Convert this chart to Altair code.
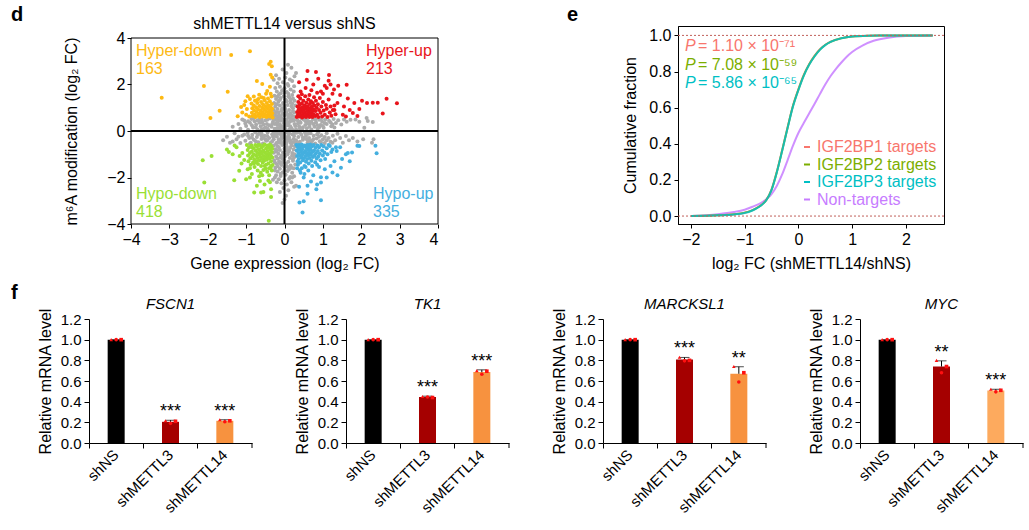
import altair as alt
import pandas as pd

FONT = "Liberation Sans"

# ---------------------------------------------------------------- panel d data
# gene expression (log2 FC), m6A modification (log2 FC) pairs per quadrant
HYPER_DOWN = """
-3.2,1.43 -2.1,1.94 -1.39,3.27 -0.9,3.43 -1.48,1.69 -1.69,0.87 -1.93,0.56 -0.72,2.15
-1.13,1.03 -1.22,0.63 -0.36,2.98 -0.4,2.88 -0.33,2.78 -0.36,2.42 -0.32,2.3 -0.58,2.02
-0.45,1.72 -0.38,1.9 -0.96,1.5 -1.02,1.28 -1.05,1.12 -0.98,0.95 -0.9,1.38 -0.8,1.48
-0.66,1.56 -0.54,1.42 -0.48,1.6 -1.1,0.8 -1.0,0.7 -0.92,0.62
-0.86,1.18 -0.84,0.98 -0.85,0.78 -0.83,0.64 -0.8,1.1 -0.79,0.88 -0.78,0.7 -0.77,1.3
-0.75,0.6 -0.74,1.02 -0.73,0.82 -0.71,1.2 -0.7,0.66 -0.69,0.94 -0.68,1.38 -0.66,0.76
-0.65,1.08 -0.64,0.6 -0.62,0.88 -0.61,1.25 -0.6,0.7 -0.58,1.0 -0.57,0.8 -0.56,1.15
-0.55,0.62 -0.53,0.92 -0.52,1.32 -0.51,0.72 -0.5,1.06 -0.48,0.84 -0.47,0.6 -0.46,1.2
-0.45,0.98 -0.44,0.68 -0.43,1.4 -0.42,0.78 -0.41,1.1 -0.4,0.9 -0.39,0.62 -0.38,1.28
-0.37,0.74 -0.36,1.02 -0.35,0.86 -0.34,0.66 -0.33,1.16 -0.32,0.96 -0.31,0.58 -0.32,0.76
-0.34,1.48 -0.36,1.6 -0.6,1.45 -0.72,1.32
"""

HYPER_UP = """
0.6,2.58 0.82,2.54 1.16,2.41 1.15,2.16 1.29,1.78 1.62,1.99 1.82,1.2 2.02,1.3 2.15,1.2
2.3,1.22 2.43,1.22 2.56,0.75 2.66,1.39 2.93,1.19 1.78,0.77 1.52,0.7 1.9,0.65 1.65,1.4
1.45,1.55 1.38,1.2 1.55,1.05 1.7,0.9 1.3,0.9 1.25,1.6 1.05,1.95 0.95,1.7 0.75,2.0
0.55,1.85 0.42,1.7 0.38,2.1 0.88,2.25 1.4,1.95 1.2,2.0 1.6,0.62 1.95,0.95
0.32,0.6 0.33,0.82 0.34,1.05 0.35,0.7 0.36,1.25 0.37,0.92 0.38,0.62 0.39,1.12 0.4,0.78
0.41,1.4 0.42,0.98 0.43,0.66 0.44,0.86 0.45,1.18 0.46,0.58 0.47,1.02 0.48,0.74 0.49,1.3
0.5,0.9 0.51,0.64 0.52,1.1 0.53,0.8 0.54,1.5 0.55,0.98 0.56,0.6 0.57,1.22 0.58,0.72
0.59,0.88 0.6,1.06 0.61,0.66 0.62,1.36 0.63,0.82 0.64,0.98 0.65,0.6 0.66,1.16 0.67,0.76
0.68,0.92 0.69,1.28 0.7,0.68 0.71,1.04 0.72,0.84 0.73,0.6 0.74,1.2 0.75,0.94 0.76,0.72
0.77,1.45 0.78,1.1 0.8,0.64 0.81,0.86 0.82,1.3 0.84,1.0 0.85,0.7 0.87,1.15 0.88,0.6
0.9,0.9 0.92,1.42 0.94,0.78 0.96,1.05 0.98,0.62 1.0,1.25 1.02,0.88 1.05,0.7 1.08,1.12
1.1,0.96 1.12,0.6 1.15,1.35 1.18,0.8 1.2,1.05 1.22,0.66 1.26,0.9 1.3,1.1 1.33,0.72
1.0,1.6 0.85,1.65 0.65,1.55 0.45,1.58 0.36,1.5 0.7,1.75 0.58,2.2 1.1,1.85
"""

HYPO_DOWN = """
-2.13,-1.26 -1.9,-1.07 -2.09,-2.22 -1.31,-2.12 -1.0,-2.08 -0.79,-2.65 -0.61,-2.65
-0.35,-2.84 -0.41,-3.86 -1.5,-0.8 -1.45,-0.9 -1.17,-1.08 -0.96,-1.65 -0.66,-1.95
-0.64,-2.15 -0.42,-2.13 -1.18,-1.71 -0.35,-2.5 -0.52,-2.3 -0.72,-2.35 -0.9,-2.0
-1.25,-0.7 -1.35,-1.0 -1.12,-1.4 -0.55,-2.62 -0.38,-2.2 -0.85,-1.85 -1.05,-1.25
-1.1,-0.95 -1.3,-0.62
-0.98,-0.6 -0.96,-0.82 -0.95,-1.05 -0.94,-1.3 -0.92,-0.7 -0.9,-0.95 -0.89,-1.18
-0.88,-1.45 -0.86,-0.62 -0.85,-0.88 -0.84,-1.1 -0.82,-1.35 -0.81,-0.74 -0.8,-1.0
-0.79,-1.22 -0.78,-1.55 -0.76,-0.6 -0.75,-0.84 -0.74,-1.06 -0.73,-1.3 -0.72,-0.68
-0.71,-0.94 -0.7,-1.16 -0.69,-1.42 -0.67,-0.78 -0.66,-1.02 -0.65,-1.26 -0.64,-0.6
-0.63,-0.88 -0.62,-1.12 -0.61,-1.5 -0.6,-0.72 -0.59,-0.98 -0.58,-1.2 -0.57,-1.36
-0.56,-0.64 -0.55,-0.84 -0.54,-1.08 -0.53,-1.28 -0.52,-0.58 -0.51,-0.92 -0.5,-1.14
-0.49,-1.62 -0.48,-0.74 -0.47,-1.0 -0.46,-1.24 -0.45,-0.62 -0.44,-0.86 -0.43,-1.1
-0.42,-1.4 -0.41,-0.7 -0.4,-0.96 -0.39,-1.18 -0.38,-0.58 -0.37,-0.8 -0.36,-1.04
-0.35,-1.3 -0.34,-0.66 -0.33,-0.9 -0.32,-1.14 -0.31,-1.46 -0.33,-1.7 -0.36,-1.58
-0.45,-1.75 -0.55,-1.68 -0.62,-1.8 -0.7,-1.7 -0.8,-1.4 -0.9,-1.6 -0.58,-1.9 -0.4,-1.9
-0.32,-0.76 -0.35,-1.5 -0.75,-1.35 -0.68,-0.6 -0.48,-1.45 -0.52,-1.5 -0.85,-0.7 -0.4,-1.6
"""

HYPO_UP = """
1.34,-0.7 1.36,-0.86 1.6,-1.0 1.65,-0.95 1.9,-0.63 1.76,-0.93 2.37,-0.63 2.4,-0.96
1.25,-1.78 1.38,-1.9 0.95,-1.99 0.6,-2.35 0.83,-2.5 0.38,-2.4 0.69,-2.17 1.1,-2.0
0.95,-2.98 0.39,-3.08 0.5,-3.02 0.47,-3.51 1.47,-1.58 0.95,-2.22 1.45,-0.7 1.95,-0.65
1.2,-1.5 1.3,-1.3 1.5,-1.2 1.05,-1.65 0.5,-2.0 0.75,-1.9 0.42,-1.8 1.15,-0.6 1.25,-0.8
1.7,-1.3 0.6,-2.7 0.85,-2.3
0.31,-0.6 0.32,-0.84 0.33,-1.08 0.34,-1.3 0.35,-0.7 0.36,-0.95 0.37,-1.2 0.38,-0.6
0.39,-0.8 0.4,-1.04 0.41,-1.36 0.42,-0.66 0.43,-0.9 0.44,-1.14 0.45,-0.58 0.46,-0.78
0.47,-1.0 0.48,-1.26 0.49,-0.68 0.5,-0.92 0.51,-1.16 0.52,-1.5 0.53,-0.62 0.54,-0.86
0.55,-1.08 0.56,-1.32 0.57,-0.72 0.58,-0.96 0.59,-1.2 0.6,-0.6 0.61,-0.82 0.62,-1.04
0.63,-1.4 0.64,-0.7 0.65,-0.94 0.66,-1.16 0.67,-0.58 0.68,-0.8 0.69,-1.02 0.7,-1.28
0.72,-0.66 0.73,-0.9 0.74,-1.12 0.76,-0.6 0.77,-0.84 0.78,-1.06 0.8,-1.34 0.81,-0.72
0.82,-0.96 0.84,-1.18 0.86,-0.62 0.87,-0.86 0.88,-1.1 0.9,-0.7 0.92,-0.98 0.94,-1.26
0.96,-0.6 0.98,-0.84 1.0,-1.05 1.02,-0.66 1.04,-0.92 1.06,-1.2 1.1,-0.74 1.12,-1.0
1.18,-0.64 1.22,-0.9 0.35,-1.45 0.45,-1.6 0.55,-1.55 0.62,-1.7 0.72,-1.5 0.85,-1.45
0.4,-1.7 0.52,-1.85 0.33,-1.6 0.9,-1.55
"""

UNCHANGED = """
-0.28,0.6 -0.2,0.65 -0.1,0.62 0.0,0.68 0.1,0.6 0.2,0.66 0.28,0.62 -0.25,0.75 -0.15,0.8
-0.05,0.74 0.05,0.82 0.15,0.76 0.25,0.8 -0.28,0.9 -0.18,0.95 -0.08,0.88 0.02,0.96
0.12,0.9 0.22,0.98 -0.24,1.05 -0.12,1.1 0.0,1.04 0.08,1.12 0.18,1.06 0.28,1.1 -0.27,1.2
-0.16,1.26 -0.04,1.2 0.06,1.28 0.16,1.22 0.26,1.3 -0.22,1.38 -0.1,1.42 0.02,1.36
0.12,1.45 0.22,1.4 -0.26,1.52 -0.14,1.58 -0.02,1.5 0.1,1.6 0.2,1.55 -0.2,1.7 -0.06,1.75
0.06,1.68 0.16,1.78 -0.24,1.85 -0.12,1.9 0.0,1.84 0.1,1.95 0.25,1.92 -0.18,2.05
-0.04,2.1 0.08,2.02 0.2,2.15 -0.14,2.25 0.02,2.3 0.14,2.22 -0.22,2.4 0.05,2.5 0.3,2.5
0.09,2.85 -0.05,2.65 0.18,2.72 -0.28,2.2 0.26,2.35 -0.1,1.62 0.04,1.3 -0.2,1.15
0.14,0.7 -0.16,0.58 0.24,1.7
-1.35,0.18 -1.2,0.3 -1.15,0.1 -1.05,0.45 -1.0,0.22 -0.95,0.05 -0.9,0.35 -0.86,0.52
-0.82,0.15 -0.78,0.42 -0.74,0.28 -0.7,0.06 -0.66,0.5 -0.62,0.2 -0.58,0.38 -0.54,0.1
-0.5,0.46 -0.46,0.3 -0.42,0.04 -0.38,0.54 -0.34,0.18 -0.3,0.4 -0.26,0.1 -0.22,0.5
-0.18,0.26 -0.14,0.08 -0.1,0.44 -0.06,0.2 -0.02,0.34 0.02,0.06 0.06,0.5 0.1,0.24
0.14,0.4 0.18,0.12 0.22,0.52 0.26,0.3 0.3,0.08 0.34,0.46 0.38,0.2 0.42,0.36 0.46,0.04
0.5,0.5 0.54,0.26 0.58,0.12 0.62,0.42 0.66,0.3 0.7,0.06 0.74,0.52 0.78,0.18 0.82,0.38
0.86,0.1 0.9,0.48 0.94,0.26 0.98,0.4 1.02,0.14 1.06,0.5 1.1,0.3 1.16,0.44 1.22,0.2
1.28,0.52 1.34,0.34 1.4,0.46 1.48,0.28 1.55,0.5 1.62,0.4 1.72,0.48 1.85,0.5 1.95,0.4
2.14,0.56 2.17,0.43 2.08,0.14 2.3,0.39 -0.8,0.55 -0.6,0.05 -0.4,0.25 -0.2,0.36 0.0,0.15
0.2,0.44 0.4,0.1 0.6,0.32 0.8,0.5 1.0,0.22 1.2,0.38 -1.1,0.5 -0.7,0.45 -0.5,0.15
-0.3,0.55 0.15,0.55 0.45,0.55 0.7,0.4 0.9,0.15 1.3,0.15 -0.12,0.15 0.08,0.38
-0.25,0.3 -0.15,0.45 -0.05,0.05 0.05,0.28 0.15,0.2 0.25,0.46 -0.2,0.12 0.0,0.5 0.12,0.05
-0.08,0.55 0.28,0.22 -0.28,0.48 0.35,0.32 0.55,0.42 0.75,0.3 0.95,0.52 -0.55,0.28
-0.75,0.16 -0.95,0.42 -0.45,0.48 -0.65,0.36 0.65,0.18 0.85,0.26 1.05,0.34 1.25,0.28
-0.85,0.25 -1.02,0.32
-1.6,-0.4 -1.5,-0.25 -1.42,-0.5 -1.3,-0.1 -1.25,-0.35 -1.15,-0.52 -1.1,-0.2 -1.02,-0.42
-0.96,-0.08 -0.92,-0.3 -0.88,-0.5 -0.84,-0.16 -0.8,-0.38 -0.76,-0.05 -0.72,-0.26
-0.68,-0.48 -0.64,-0.12 -0.6,-0.34 -0.56,-0.54 -0.52,-0.2 -0.48,-0.42 -0.44,-0.06
-0.4,-0.3 -0.36,-0.5 -0.32,-0.14 -0.28,-0.36 -0.24,-0.04 -0.2,-0.24 -0.16,-0.46
-0.12,-0.12 -0.08,-0.32 -0.04,-0.52 0.0,-0.18 0.04,-0.4 0.08,-0.06 0.12,-0.28 0.16,-0.5
0.2,-0.14 0.24,-0.34 0.28,-0.54 0.32,-0.08 0.36,-0.26 0.4,-0.46 0.44,-0.16 0.48,-0.38
0.52,-0.04 0.56,-0.22 0.6,-0.5 0.64,-0.3 0.68,-0.1 0.72,-0.42 0.76,-0.2 0.8,-0.54
0.84,-0.32 0.88,-0.06 0.92,-0.44 0.96,-0.18 1.0,-0.36 1.05,-0.52 1.1,-0.1 1.15,-0.3
1.2,-0.46 1.26,-0.2 1.32,-0.4 1.38,-0.12 1.45,-0.3 1.52,-0.5 1.6,-0.22 1.68,-0.4
1.78,-0.3 1.9,-0.45 2.05,-0.35 2.32,-0.36 2.28,-0.5 -0.9,-0.55 -0.7,-0.15 -0.5,-0.35
-0.3,-0.25 -0.1,-0.4 0.1,-0.2 0.3,-0.4 0.5,-0.3 0.7,-0.55 0.9,-0.25 1.1,-0.4 -1.35,-0.45
-1.2,-0.25 0.05,-0.54 -0.22,-0.55 0.25,-0.1 -0.6,-0.1 0.62,-0.12
-0.25,-0.2 -0.15,-0.35 -0.05,-0.1 0.05,-0.3 0.15,-0.4 0.25,-0.22 -0.2,-0.5 0.0,-0.45
0.12,-0.1 -0.08,-0.2 0.28,-0.44 -0.28,-0.08 0.35,-0.52 0.55,-0.12 0.75,-0.36 0.95,-0.48
-0.55,-0.28 -0.75,-0.44 -0.95,-0.2 -0.45,-0.22 -0.65,-0.04 0.65,-0.42 0.85,-0.14
1.05,-0.26 1.25,-0.5 -0.85,-0.28 -1.05,-0.15
-0.28,-0.62 -0.18,-0.66 -0.06,-0.6 0.06,-0.68 0.18,-0.62 0.27,-0.66 -0.24,-0.78
-0.12,-0.82 0.0,-0.76 0.12,-0.84 0.24,-0.8 -0.28,-0.94 -0.16,-0.98 -0.04,-0.92 0.08,-1.0
0.2,-0.95 -0.22,-1.1 -0.1,-1.14 0.02,-1.08 0.14,-1.16 0.26,-1.12 -0.27,-1.26 -0.14,-1.3
-0.02,-1.24 0.1,-1.32 0.22,-1.28 -0.2,-1.42 -0.08,-1.46 0.04,-1.4 0.16,-1.48 0.28,-1.44
-0.24,-1.58 -0.12,-1.62 0.0,-1.56 0.12,-1.64 0.24,-1.6 -0.18,-1.74 -0.05,-1.78
0.08,-1.72 0.2,-1.8 -0.22,-1.9 -0.1,-1.94 0.03,-1.88 0.15,-1.98 -0.15,-2.08 0.0,-2.12
0.12,-2.05 -0.08,-2.25 0.06,-2.3 -0.2,-2.2 0.18,-2.2 -0.03,-2.45 0.1,-2.55 -0.12,-2.62
0.04,-2.78 -0.05,-3.1 0.0,-2.95 -0.25,-2.0 0.25,-1.95 -0.15,-0.7 0.1,-0.9 -0.05,-1.2
0.05,-1.52 -0.25,-1.7 0.15,-0.72 0.02,-1.02 -0.18,-1.18 0.3,-2.35 -0.3,-2.1 0.25,-2.4
-0.22,0.82 0.08,0.7 -0.06,0.98 0.2,1.18 -0.12,1.34 0.1,1.5 -0.18,1.48 0.0,1.66
-0.22,-0.88 0.06,-0.86 -0.08,-1.06 0.22,-1.2 -0.12,-1.38 0.1,-1.56 -0.18,-1.52 0.0,-1.68
0.2,-1.05 -0.25,-1.35
-0.02,0.42 0.1,0.32 -0.18,0.4 0.2,0.05 -0.32,0.3 0.4,0.4 -0.45,0.12 0.48,0.16
-0.6,0.5 0.58,0.48 -0.12,0.28 0.02,0.22 -0.02,-0.28 0.1,-0.42 -0.18,-0.12 0.2,-0.48
-0.32,-0.44 0.4,-0.08 -0.45,-0.4 0.48,-0.28 -0.6,-0.22 0.58,-0.36 -0.12,-0.5 0.02,-0.06
-0.14,0.68 0.22,0.86 -0.02,1.15 0.16,1.34 -0.26,0.64 0.06,-0.74 -0.2,-0.84 0.26,-1.0
-0.06,-1.36 0.18,-1.58 -0.1,-1.84 0.2,-2.0
"""

QUADRANTS = ["Unchanged", "Hyper-down", "Hyper-up", "Hypo-down", "Hypo-up"]
QUAD_COLORS = ["#ABABAB", "#FDB913", "#E8141B", "#9ADF35", "#44AFDF"]
QUAD_COUNTS = {"Hyper-down": 163, "Hyper-up": 213, "Hypo-down": 418, "Hypo-up": 335}


def parse_pairs(text):
    xs, ys = [], []
    for tok in text.split():
        a, b = tok.split(",")
        xs.append(float(a))
        ys.append(float(b))
    return xs, ys


rows = []
for name, block in [("Unchanged", UNCHANGED), ("Hyper-down", HYPER_DOWN),
                     ("Hyper-up", HYPER_UP), ("Hypo-down", HYPO_DOWN),
                     ("Hypo-up", HYPO_UP)]:
    xs, ys = parse_pairs(block)
    rows += [{"expr": a, "m6a": b, "group": name} for a, b in zip(xs, ys)]
scatter_df = pd.DataFrame(rows)

# ---------------------------------------------------------------- panel e data
CDF_X_TARGET = [-2.0, -1.5, -1.2, -1.0, -0.9, -0.8, -0.7, -0.6, -0.5, -0.4, -0.3, -0.2,
                -0.1, 0.0, 0.1, 0.2, 0.3, 0.4, 0.5, 0.6, 0.8, 1.0, 1.3, 1.6, 2.0, 2.5]
CDF_IGF2BP1 = [0.0, 0.004, 0.01, 0.018, 0.027, 0.041, 0.059, 0.088, 0.147, 0.247, 0.367,
               0.492, 0.612, 0.702, 0.781, 0.841, 0.887, 0.923, 0.948, 0.965, 0.985,
               0.994, 0.998, 0.999, 1.0, 1.0]
CDF_IGF2BP2 = [0.0, 0.004, 0.01, 0.019, 0.027, 0.04, 0.058, 0.087, 0.145, 0.245, 0.365,
               0.49, 0.61, 0.7, 0.779, 0.839, 0.885, 0.921, 0.947, 0.964, 0.984, 0.994,
               0.998, 0.999, 1.0, 1.0]
CDF_IGF2BP3 = [0.0, 0.004, 0.009, 0.017, 0.025, 0.039, 0.057, 0.086, 0.143, 0.243, 0.363,
               0.488, 0.607, 0.697, 0.776, 0.837, 0.883, 0.92, 0.946, 0.964, 0.984, 0.994,
               0.998, 0.999, 1.0, 1.0]
CDF_X_NON = [-2.0, -1.5, -1.2, -1.0, -0.85, -0.7, -0.57, -0.5, -0.4, -0.3, -0.2, -0.1,
             0.0, 0.1, 0.2, 0.3, 0.4, 0.5, 0.6, 0.7, 0.8, 0.9, 1.0, 1.2, 1.4, 1.7, 2.0, 2.5]
CDF_NON = [0.0, 0.01, 0.022, 0.035, 0.052, 0.072, 0.1, 0.122, 0.168, 0.232, 0.31, 0.39,
           0.46, 0.515, 0.568, 0.62, 0.675, 0.728, 0.775, 0.815, 0.85, 0.882, 0.908,
           0.945, 0.97, 0.988, 0.996, 1.0]

SERIES = ["IGF2BP1 targets", "IGF2BP2 targets", "IGF2BP3 targets", "Non-targets"]
SERIES_COLORS = ["#F8766D", "#7CAE00", "#00BFC4", "#C77CFF"]
P_TEXTS = ["= 1.10 × 10⁻⁷¹", "= 7.08 × 10⁻⁵⁹", "= 5.86 × 10⁻⁶⁵"]

cdf_rows = []
for name, xs, ys in [("Non-targets", CDF_X_NON, CDF_NON),
                     ("IGF2BP1 targets", CDF_X_TARGET, CDF_IGF2BP1),
                     ("IGF2BP2 targets", CDF_X_TARGET, CDF_IGF2BP2),
                     ("IGF2BP3 targets", CDF_X_TARGET, CDF_IGF2BP3)]:
    cdf_rows += [{"fc": a, "frac": b, "series": name} for a, b in zip(xs, ys)]
cdf_df = pd.DataFrame(cdf_rows)

# ---------------------------------------------------------------- panel f data
CONDITIONS = ["shNS", "shMETTL3", "shMETTL14"]
GENES = ["FSCN1", "TK1", "MARCKSL1", "MYC"]
MEANS = {"FSCN1": [1.0, 0.205, 0.215], "TK1": [1.0, 0.445, 0.686],
         "MARCKSL1": [1.0, 0.808, 0.67], "MYC": [1.0, 0.74, 0.508]}
SDS = {"FSCN1": [0.0, 0.015, 0.01], "TK1": [0.0, 0.008, 0.022],
       "MARCKSL1": [0.0, 0.02, 0.068], "MYC": [0.0, 0.055, 0.012]}
REPLICATES = {
    "FSCN1": [[1.0, 1.0, 1.0], [0.215, 0.19, 0.21], [0.225, 0.205, 0.215]],
    "TK1": [[1.0, 1.0, 1.0], [0.45, 0.445, 0.44], [0.70, 0.665, 0.695]],
    "MARCKSL1": [[1.0, 1.0, 1.0], [0.83, 0.795, 0.80], [0.74, 0.59, 0.68]],
    "MYC": [[1.0, 1.0, 1.0], [0.80, 0.68, 0.74], [0.52, 0.495, 0.51]],
}
STARS = {"FSCN1": ["", "***", "***"], "TK1": ["", "***", "***"],
         "MARCKSL1": ["", "***", "**"], "MYC": ["", "**", "***"]}
BAR_COLORS = {"FSCN1": ["#000000", "#A50000", "#F7923F"],
              "TK1": ["#000000", "#A50000", "#F7923F"],
              "MARCKSL1": ["#000000", "#A50000", "#F7923F"],
              "MYC": ["#000000", "#A50000", "#FDAA5E"]}


def text_layer(txt, x, y, **kw):
    props = dict(font=FONT, fontSize=16, align="left", baseline="alphabetic")
    props.update(kw)
    return alt.Chart(pd.DataFrame({"t": [txt]})).mark_text(**props).encode(
        text="t:N", x=alt.value(x), y=alt.value(y))


def letter(ch, dx, dy):
    return text_layer(ch, dx, dy, fontSize=20, fontWeight="bold")


# ---------------------------------------------------------------- panel d
# The plot rectangle is widened to the left and raised at the top so the
# panels of the figure share their grid origins; the visible frame is drawn
# at the -4..4 limits.
D_PX_X = 307 / 8
D_PX_Y = 186 / 8
D_EXTRA_LEFT, D_EXTRA_TOP = 42, 12
D_W, D_H = 307 + D_EXTRA_LEFT, 186 + D_EXTRA_TOP
D_XMIN = -4 - D_EXTRA_LEFT / D_PX_X
D_YMAX = 4 + D_EXTRA_TOP / D_PX_Y


def dx_enc(field):
    return alt.X(field, type="quantitative",
                 scale=alt.Scale(domain=[D_XMIN, 4], nice=False),
                 axis=alt.Axis(values=list(range(-4, 5)),
                               title="Gene expression (log₂ FC)",
                               tickSize=4, labelPadding=3, titlePadding=8, domain=False,
                               titleX=D_EXTRA_LEFT + 307 / 2, titleAlign="center",
                               labelOverlap=False))


def dy_enc(field):
    return alt.Y(field, type="quantitative",
                 scale=alt.Scale(domain=[-4, D_YMAX], nice=False),
                 axis=alt.Axis(values=[-4, -2, 0, 2, 4],
                               title="m⁶A modification (log₂ FC)",
                               tickSize=4, labelPadding=2, titlePadding=27, domain=False,
                               offset=-D_EXTRA_LEFT, titleY=D_EXTRA_TOP + 186 / 2,
                               labelOverlap=False))


dots = alt.Chart(scatter_df).mark_circle(size=16, opacity=1).encode(
    x=dx_enc("expr"), y=dy_enc("m6a"),
    color=alt.Color("group:N", scale=alt.Scale(domain=QUADRANTS, range=QUAD_COLORS),
                    legend=None),
)
zero_df = pd.DataFrame({"expr": [0.0], "m6a": [0.0], "lo": [-4.0], "hi": [4.0]})
vline = alt.Chart(zero_df).mark_rule(color="black", strokeWidth=2).encode(
    x=dx_enc("expr"), y=dy_enc("lo"), y2="hi:Q")
hline = alt.Chart(zero_df).mark_rule(color="black", strokeWidth=2).encode(
    y=dy_enc("m6a"), x=dx_enc("lo"), x2="hi:Q")

frame_v = alt.Chart(pd.DataFrame({"expr": [-4.0, 4.0], "lo": [-4.0, -4.0],
                                  "hi": [4.0, 4.0]})).mark_rule(
    color="black", strokeWidth=1).encode(x=dx_enc("expr"), y=dy_enc("lo"), y2="hi:Q")
frame_h = alt.Chart(pd.DataFrame({"m6a": [-4.0, 4.0], "lo": [-4.0, -4.0],
                                  "hi": [4.0, 4.0]})).mark_rule(
    color="black", strokeWidth=1).encode(y=dy_enc("m6a"), x=dx_enc("lo"), x2="hi:Q")

label_pos = {"Hyper-down": (47, 30), "Hyper-up": (277, 30),
             "Hypo-down": (47, 173), "Hypo-up": (284, 173)}
quad_layers = []
for name, col in zip(QUADRANTS[1:], QUAD_COLORS[1:]):
    px, py = label_pos[name]
    quad_layers.append(text_layer(f"{name}\n{QUAD_COUNTS[name]}", px, py, color=col,
                                  lineBreak="\n", lineHeight=18))

panel_d = alt.layer(
    dots, vline, hline, frame_v, frame_h, *quad_layers,
    text_layer("shMETTL14 versus shNS", D_EXTRA_LEFT + 307 / 2, 3, align="center"),
    letter("d", -78, -5),
).properties(width=D_W, height=D_H, view=alt.ViewBackground(stroke="transparent"))

# ---------------------------------------------------------------- panel e
E_W, E_H = 266, 198
ex = alt.X("fc:Q", scale=alt.Scale(domain=[-2.24, 2.71], nice=False),
           axis=alt.Axis(values=[-2, -1, 0, 1, 2], title="log₂ FC (shMETTL14/shNS)",
                         tickSize=4, labelPadding=3, titlePadding=8, labelOverlap=False))
ey = alt.Y("frac:Q", scale=alt.Scale(domain=[-0.044, 1.052], nice=False),
           axis=alt.Axis(values=[0, 0.2, 0.4, 0.6, 0.8, 1.0], format=".1f",
                         title="Cumulative fraction", tickSize=4, labelPadding=3,
                         titlePadding=10, labelOverlap=False))

curve_layers = []
for name, op in [("Non-targets", 0.85), ("IGF2BP1 targets", 0.75),
                 ("IGF2BP2 targets", 0.7), ("IGF2BP3 targets", 0.85)]:
    col = SERIES_COLORS[SERIES.index(name)]
    curve_layers.append(
        alt.Chart(cdf_df[cdf_df.series == name]).mark_line(
            strokeWidth=2, opacity=op, interpolate="monotone", color=col
        ).encode(x=ex, y=ey)
    )

ref_lines = alt.Chart(pd.DataFrame({"frac": [0.0, 1.0]})).mark_rule(
    color="#C0605A", strokeDash=[2, 2], strokeWidth=1
).encode(y=ey)

p_layers = []
for i, (txt, col) in enumerate(zip(P_TEXTS, SERIES_COLORS[:3])):
    base_y = 25 + 18.5 * i
    p_layers.append(text_layer("P", 7, base_y, color=col, fontStyle="italic"))
    p_layers.append(text_layer(txt, 20, base_y, color=col))

legend_layers = []
for i, (name, col) in enumerate(zip(SERIES, SERIES_COLORS)):
    by = 126 + 17.5 * i
    legend_layers.append(text_layer(name, 139, by, color=col))
    legend_layers.append(
        alt.Chart(pd.DataFrame({"t": [name]})).mark_rule(color=col, strokeWidth=2).encode(
            x=alt.value(126), x2=alt.value(132), y=alt.value(by - 5))
    )

panel_e = alt.layer(*curve_layers, ref_lines, *p_layers, *legend_layers,
                    letter("e", -111, -5)).properties(width=E_W, height=E_H)

# ---------------------------------------------------------------- panel f
F_W, F_H = 163, 124
STEP = F_W / 3


def fy_enc(field):
    return alt.Y(field, type="quantitative",
                 scale=alt.Scale(domain=[0, 1.2], nice=False),
                 axis=alt.Axis(values=[0, 0.2, 0.4, 0.6, 0.8, 1.0, 1.2], format=".1f",
                               title="Relative mRNA level", tickSize=5,
                               labelPadding=3, titlePadding=7, labelFontSize=15,
                               labelOverlap=False))


def fx_enc():
    return alt.X("cond:N", sort=CONDITIONS,
                 scale=alt.Scale(paddingInner=0, paddingOuter=0),
                 axis=alt.Axis(title=None, labelAngle=-45, labelAlign="right",
                               labelBaseline="middle", bandPosition=0, tickSize=5,
                               labelPadding=4, labelFontSize=15))


def bar_panel(gene, with_letter=False):
    means, sds = MEANS[gene], SDS[gene]
    df = pd.DataFrame({
        "cond": CONDITIONS, "mean": means, "sd": sds,
        "top": [m + s for m, s in zip(means, sds)],
        "stars": STARS[gene], "color": BAR_COLORS[gene],
    })
    rep_df = pd.DataFrame([
        {"cond": c, "rep": r, "value": v}
        for c, vals in zip(CONDITIONS, REPLICATES[gene]) for r, v in enumerate(vals)
    ])
    bars = alt.Chart(df).mark_bar(width=17).encode(
        x=fx_enc(), y=fy_enc("mean"), color=alt.Color("color:N", scale=None))
    err = alt.Chart(df).mark_rule(color="black", strokeWidth=1).encode(
        x=fx_enc(), y=fy_enc("mean"), y2="top:Q")
    cap = alt.Chart(df).mark_tick(color="black", thickness=1, size=10).encode(
        x=fx_enc(), y=fy_enc("top"))
    reps = alt.Chart(rep_df).mark_point(filled=True, size=13, color="#FF1010",
                                        opacity=1).encode(
        x=fx_enc(), y=fy_enc("value"),
        xOffset=alt.XOffset("rep:N", scale=alt.Scale(
            domain=[0, 1, 2], range=[STEP / 2 - 7.5, STEP / 2 + 7.5])),
        shape=alt.Shape("rep:N", scale=alt.Scale(
            domain=[0, 1, 2], range=["triangle-up", "circle", "square"]), legend=None),
    )
    stars = alt.Chart(df).mark_text(fontSize=18, font=FONT, dy=-3,
                                    baseline="alphabetic").encode(
        x=fx_enc(), y=fy_enc("top"), text="stars:N")
    end_tick = alt.Chart(pd.DataFrame({"k": [0]})).mark_rule(color="black").encode(
        x=alt.value(F_W), y=alt.value(F_H), y2=alt.value(F_H + 5))
    title = text_layer(gene, F_W / 2, -10, align="center", fontStyle="italic",
                       fontSize=15)
    layers = [bars, err, cap, reps, stars, end_tick, title]
    if with_letter:
        layers.append(letter("f", -78, -20))
    return alt.layer(*layers).properties(
        width=F_W, height=F_H, view=alt.ViewBackground(stroke="transparent"))


bottom = alt.hconcat(*[bar_panel(g, i == 0) for i, g in enumerate(GENES)],
                     spacing=94, bounds="flush")
top = alt.hconcat(panel_d, panel_e, spacing=126)

chart = alt.vconcat(top, bottom, spacing=10).configure(
    font=FONT, padding={"left": 10, "top": 4, "right": 0, "bottom": 0}
).configure_view(stroke="black", strokeWidth=1).configure_axis(
    labelFont=FONT, titleFont=FONT, labelFontSize=16, titleFontSize=16,
    labelColor="black", titleColor="black", domainColor="black", tickColor="black",
    grid=False, titleFontWeight="normal", labelOverlap=False
)

chart.save("out.html", embed_options={"renderer": "svg", "actions": False})
